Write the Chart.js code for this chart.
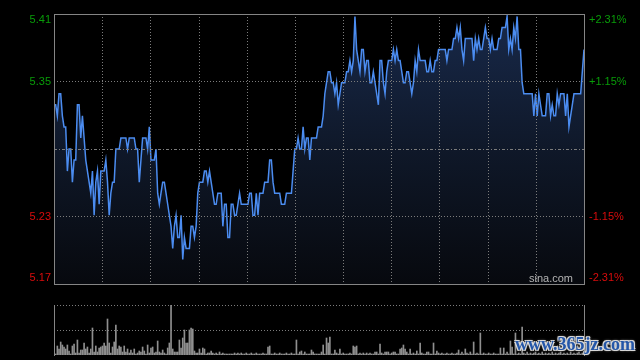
<!DOCTYPE html>
<html><head><meta charset="utf-8">
<script src="https://cdn.jsdelivr.net/npm/chart.js@4.4.1/dist/chart.umd.min.js"></script>
<style>
html,body{margin:0;padding:0;background:#000;width:640px;height:360px;overflow:hidden;}
#c1{position:absolute;left:0;top:0;}
#c2{position:absolute;left:0;top:292px;}
#wm{position:absolute;left:515px;top:335px;font:bold 18px 'Liberation Serif',serif;line-height:18px;color:#2456a8;
text-shadow:1px 1px 0 #d8d8d8,-1px -1px 0 #d8d8d8,1px -1px 0 #d8d8d8,-1px 1px 0 #d8d8d8,0 0 3px #fff;white-space:nowrap;}
</style></head><body>
<canvas id="c1" width="640" height="292"></canvas>
<canvas id="c2" width="640" height="68"></canvas>
<div id="wm">www.365jz.com</div>
<script>
const prevClose = 5.29;
const pctRange = 2.31;
const tickPercents = [2.31, 1.155, -1.155, -2.31];
const leftTickLabels = ['5.41', '5.35', '5.23', '5.17'];
const rightTickLabels = ['+2.31%', '+1.15%', '-1.15%', '-2.31%'];
const watermarkText = 'sina.com';

const pricesMorning = [
5.33,5.33,5.32,5.34,5.34,5.32,5.31,5.31,5.27,5.29,
5.29,5.26,5.28,5.28,5.33,5.33,5.30,5.32,5.30,5.28,
5.27,5.26,5.25,5.27,5.23,5.26,5.27,5.24,5.27,5.27,
5.27,5.28,5.26,5.23,5.25,5.26,5.26,5.29,5.29,5.29,
5.30,5.30,5.30,5.30,5.29,5.30,5.30,5.30,5.30,5.29,
5.29,5.26,5.28,5.30,5.30,5.30,5.29,5.31,5.28,5.28,
5.28,5.29,5.25,5.24,5.25,5.26,5.26,5.25,5.24,5.23,
5.22,5.20,5.22,5.23,5.21,5.21,5.23,5.19,5.21,5.20,
5.20,5.20,5.22,5.22,5.21,5.22,5.25,5.26,5.26,5.26,
5.27,5.27,5.26,5.27,5.26,5.25,5.24,5.24,5.25,5.25,
5.25,5.22,5.24,5.24,5.21,5.21,5.24,5.24,5.23,5.23,
5.24,5.25,5.24,5.24,5.24,5.24,5.24,5.25];
const pricesMidday = [
5.25,5.23,5.23,5.25,5.23,5.25,5.25,5.25,5.26,5.26,
5.26,5.28,5.28,5.26,5.25,5.25,5.25,5.25,5.24,5.24,
5.24,5.25,5.25,5.25,5.25,5.27,5.29,5.29,5.30,5.29,
5.29,5.31,5.29,5.30,5.30,5.28,5.30,5.30,5.30,5.30,
5.31,5.31,5.31,5.32,5.34,5.35,5.36,5.36,5.35,5.35,
5.34,5.35,5.33,5.34,5.35,5.35,5.35,5.36,5.36,5.37,
5.36,5.37,5.41,5.38,5.37,5.36,5.38,5.38,5.36,5.37,
5.37,5.35,5.35,5.36,5.35,5.34,5.33,5.37,5.37,5.35,
5.34,5.36,5.37,5.37,5.37,5.38,5.37,5.38,5.37,5.37,
5.36,5.35,5.35,5.36,5.36,5.35,5.34,5.35,5.37,5.36,
5.38,5.37,5.37,5.37,5.37,5.36,5.36,5.37,5.36,5.36,
5.37,5.37,5.38,5.38,5.38,5.38,5.38];
const pricesAfternoon = [
5.37,5.38,5.38,5.38,5.39,5.39,5.40,5.39,5.40,5.38,
5.37,5.39,5.39,5.39,5.39,5.39,5.37,5.39,5.38,5.39,
5.38,5.38,5.39,5.40,5.39,5.39,5.38,5.39,5.38,5.38,
5.38,5.39,5.39,5.40,5.40,5.40,5.41,5.38,5.39,5.38,
5.40,5.39,5.41,5.38,5.38,5.35,5.34,5.34,5.34,5.34,
5.34,5.34,5.32,5.34,5.32,5.34,5.33,5.32,5.32,5.32,
5.34,5.34,5.32,5.33,5.32,5.32,5.34,5.33,5.34,5.34,
5.34,5.32,5.34,5.31,5.32,5.33,5.34,5.34,5.34,5.34,
5.34,5.36,5.38];
const volumes = [
12,1,9,6,13,10,8,6,10,4,
1,9,11,2,15,2,5,5,12,6,
8,2,6,27,3,9,3,7,8,9,
12,9,36,12,2,8,13,30,6,9,
8,3,9,3,6,2,5,2,6,1,
2,4,3,8,4,1,10,2,7,8,
2,3,14,3,2,5,2,1,7,12,
50,6,3,3,3,15,7,17,25,12,
12,25,27,26,4,2,2,6,2,7,
6,1,2,2,4,2,1,2,1,3,
1,2,1,1,1,1,1,1,2,1,
2,1,2,1,1,2,1,1,2,1,
1,2,1,1,1,2,1,1,8,9,
1,1,2,1,1,2,1,1,1,2,
1,1,2,1,1,15,1,3,4,1,
3,1,1,1,5,3,1,1,1,1,
3,10,1,17,12,18,1,1,5,2,
1,6,1,2,1,1,1,2,1,9,
8,9,1,2,1,2,1,2,1,2,
1,1,3,3,1,11,2,1,3,3,
3,1,2,3,3,1,1,6,7,10,
6,3,1,6,1,2,1,4,1,12,
2,1,1,3,3,1,1,12,1,4,
2,1,2,1,1,2,1,1,2,1,
1,2,5,1,3,1,6,2,1,3,
1,13,1,2,1,22,1,2,1,1,
2,1,1,2,1,1,1,7,1,7,
1,3,1,14,8,1,22,1,2,1,
28,2,1,3,1,2,1,2,3,1,
2,1,3,1,2,1,2,1,3,1,
2,1,2,3,1,2,1,2,1,3,
1,2,1,2,3,1,2,3];
const volumeMax = 50;
const verticalDivisions = 11;

const prices = pricesMorning.concat(pricesMidday, pricesAfternoon);
const labels = prices.map((_, i) => i);
const yMin = prevClose * (1 - pctRange / 100);
const yMax = prevClose * (1 + pctRange / 100);
const tickValues = tickPercents.map(p => prevClose * (1 + p / 100));

const GRID = '#7c7c7c';
const FRAME = '#858585';

const pricePlugin = {
  id: 'priceFrame',
  afterDatasetsDraw(chart) {
    const ctx = chart.ctx, a = chart.chartArea, x = chart.scales.x, y = chart.scales.y;
    ctx.save();
    ctx.lineWidth = 1;
    ctx.strokeStyle = GRID;
    ctx.setLineDash([1, 2]);
    for (let k = 1; k < verticalDivisions; k++) {
      const px = Math.round(x.getPixelForDecimal(k / verticalDivisions)) + 0.5;
      ctx.beginPath(); ctx.moveTo(px, a.top); ctx.lineTo(px, a.bottom); ctx.stroke();
    }
    [tickValues[1], tickValues[2]].forEach(v => {
      const py = Math.round(y.getPixelForValue(v)) + 0.5;
      ctx.beginPath(); ctx.moveTo(a.left, py); ctx.lineTo(a.right, py); ctx.stroke();
    });
    ctx.setLineDash([3, 2, 1, 2]);
    const pc = Math.round(y.getPixelForValue(prevClose)) + 0.5;
    ctx.beginPath(); ctx.moveTo(a.left, pc); ctx.lineTo(a.right, pc); ctx.stroke();
    ctx.setLineDash([]);
    ctx.strokeStyle = FRAME;
    ctx.strokeRect(Math.round(a.left) + 0.5, Math.round(a.top) + 0.5, Math.round(a.right - a.left), Math.round(a.bottom - a.top));
    ctx.restore();
  },
  afterDraw(chart) {
    const ctx = chart.ctx, a = chart.chartArea, y = chart.scales.y;
    ctx.save();
    ctx.font = '11px "Liberation Sans", Arial, sans-serif';
    ctx.textBaseline = 'middle';
    tickValues.forEach((v, i) => {
      let py = y.getPixelForValue(v);
      if (i === 0) py += 6;
      if (i === tickValues.length - 1) py -= 6;
      ctx.fillStyle = tickPercents[i] > 0 ? '#089c08' : '#d80c0c';
      ctx.textAlign = 'right';
      ctx.fillText(leftTickLabels[i], a.left - 3, py);
      ctx.textAlign = 'left';
      ctx.fillText(rightTickLabels[i], a.right + 5, py);
    });
    ctx.fillStyle = '#b4b4b4';
    ctx.textAlign = 'right';
    ctx.fillText(watermarkText, a.right - 11, a.bottom - 5);
    ctx.restore();
  }
};

new Chart(document.getElementById('c1'), {
  type: 'line',
  data: {
    labels: labels,
    datasets: [{
      data: prices,
      borderColor: '#4b8cf0',
      borderWidth: 1.5,
      pointRadius: 0,
      tension: 0,
      fill: 'start',
      backgroundColor: (c) => {
        const a = c.chart.chartArea;
        if (!a) return 'rgba(20,35,60,1)';
        const g = c.chart.ctx.createLinearGradient(0, a.top, 0, a.bottom);
        g.addColorStop(0, '#18294a');
        g.addColorStop(0.5, '#0f1829');
        g.addColorStop(1, '#07090e');
        return g;
      }
    }]
  },
  options: {
    responsive: false, animation: false, devicePixelRatio: 1,
    layout: { padding: { left: 54, right: 56, top: 14, bottom: 8 } },
    plugins: { legend: { display: false }, tooltip: { enabled: false } },
    scales: {
      x: { display: false, offset: false },
      y: { display: false, min: yMin, max: yMax }
    }
  },
  plugins: [pricePlugin]
});

const volPlugin = {
  id: 'volFrame',
  beforeDatasetsDraw(chart) {
    const ctx = chart.ctx, a = chart.chartArea, y = chart.scales.y;
    ctx.save();
    ctx.lineWidth = 1;
    ctx.strokeStyle = GRID;
    ctx.setLineDash([1, 2]);
    [volumeMax, volumeMax / 2].forEach(v => {
      const py = Math.round(y.getPixelForValue(v)) + 0.5;
      ctx.beginPath(); ctx.moveTo(a.left, py); ctx.lineTo(a.right, py); ctx.stroke();
    });
    ctx.setLineDash([]);
    ctx.strokeStyle = FRAME;
    const l = Math.round(a.left) + 0.5, r = Math.round(a.right) + 0.5;
    ctx.beginPath(); ctx.moveTo(l, a.top); ctx.lineTo(l, a.bottom + 1); ctx.stroke();
    ctx.beginPath(); ctx.moveTo(r, a.top); ctx.lineTo(r, a.bottom + 1); ctx.stroke();
    ctx.restore();
  }
};

new Chart(document.getElementById('c2'), {
  type: 'bar',
  data: {
    labels: labels,
    datasets: [{ data: volumes, backgroundColor: '#8f8f8f', barThickness: 1, borderWidth: 0 }]
  },
  options: {
    responsive: false, animation: false, devicePixelRatio: 1,
    layout: { padding: { left: 54, right: 56, top: 13, bottom: 5 } },
    plugins: { legend: { display: false }, tooltip: { enabled: false } },
    scales: {
      x: { display: false, offset: false },
      y: { display: false, min: 0, max: volumeMax }
    }
  },
  plugins: [volPlugin]
});
</script>
</body></html>
